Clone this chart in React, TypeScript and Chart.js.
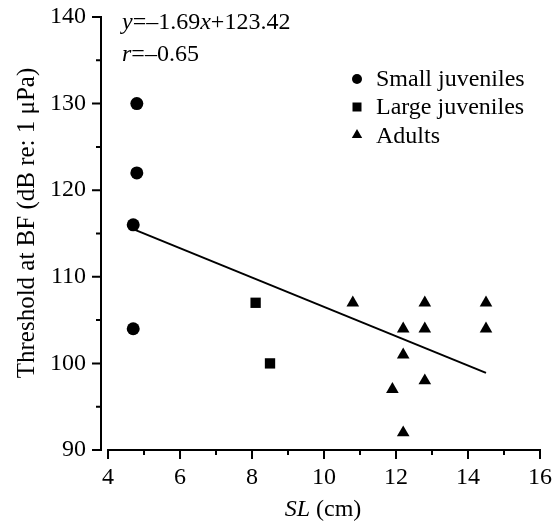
import React, { useEffect, useRef } from "react";
import { Chart, registerables } from "chart.js";

Chart.register(...registerables);

// ---- data ----
const seriesNames = ["Small juveniles", "Large juveniles", "Adults"];
const smallJuvX = [4.8, 4.8, 4.7, 4.7];
const smallJuvY = [130, 122, 116, 104];
const largeJuvX = [8.1, 8.5];
const largeJuvY = [107, 100];
const adultX = [10.8, 12.8, 14.5, 12.2, 12.8, 14.5, 12.2, 12.8, 11.9, 12.2];
const adultY = [107, 107, 107, 104, 104, 104, 101, 98, 97, 92];
const fitX = [4.7, 14.5];
const fitY = [115.5, 98.9];

const xTicks = [4, 6, 8, 10, 12, 14, 16];
const xMinorTicks = [5, 7, 9, 11, 13, 15];
const yTicks = [90, 100, 110, 120, 130, 140];
const yMinorTicks = [95, 105, 115, 125, 135];

const yTitle = "Threshold at BF (dB re: 1 \u03bcPa)";
const xTitleParts: [string, boolean][] = [["SL", true], [" (cm)", false]];
const eqParts: [string, boolean][] = [["y", true], ["=\u20131.69", false], ["x", true], ["+123.42", false]];
const rParts: [string, boolean][] = [["r", true], ["=\u20130.65", false]];

const FONT = "'Liberation Serif', 'Times New Roman', serif";

function toPoints(xs: number[], ys: number[]) {
  return xs.map((x, i) => ({ x, y: ys[i] }));
}

function drawRich(ctx: CanvasRenderingContext2D, parts: [string, boolean][], x: number, y: number, size: number, align: "left" | "center") {
  const fontFor = (it: boolean) => `${it ? "italic " : ""}${size}px ${FONT}`;
  let total = 0;
  for (const [t, it] of parts) {
    ctx.font = fontFor(it);
    total += ctx.measureText(t).width;
  }
  let cx = align === "center" ? x - total / 2 : x;
  ctx.textAlign = "left";
  ctx.textBaseline = "alphabetic";
  for (const [t, it] of parts) {
    ctx.font = fontFor(it);
    ctx.fillText(t, cx, y);
    cx += ctx.measureText(t).width;
  }
}

function drawMarker(ctx: CanvasRenderingContext2D, style: string, x: number, y: number, r: number) {
  ctx.beginPath();
  if (style === "circle") {
    ctx.arc(x, y, r, 0, Math.PI * 2);
  } else if (style === "rect") {
    ctx.rect(x - r, y - r, 2 * r, 2 * r);
  } else {
    const h = r * 1.5;
    const w = r * Math.sqrt(3);
    ctx.moveTo(x, y - r);
    ctx.lineTo(x + w / 2, y - r + h);
    ctx.lineTo(x - w / 2, y - r + h);
    ctx.closePath();
  }
  ctx.fill();
}

const decorPlugin = {
  id: "decor",
  afterDraw(chart: any) {
    const ctx: CanvasRenderingContext2D = chart.ctx;
    const xs = chart.scales.x;
    const ys = chart.scales.y;
    const left = chart.chartArea.left;
    const bottom = ys.getPixelForValue(yTicks[0]);
    ctx.save();
    ctx.strokeStyle = "#000";
    ctx.fillStyle = "#000";
    ctx.lineWidth = 2;
    // y axis
    ctx.beginPath();
    ctx.moveTo(left, ys.getPixelForValue(yTicks[yTicks.length - 1]) - 1);
    ctx.lineTo(left, bottom + 1);
    for (const v of yTicks) {
      const p = ys.getPixelForValue(v);
      ctx.moveTo(left - 9, p);
      ctx.lineTo(left, p);
    }
    for (const v of yMinorTicks) {
      const p = ys.getPixelForValue(v);
      ctx.moveTo(left - 5, p);
      ctx.lineTo(left, p);
    }
    ctx.stroke();
    // x axis
    ctx.beginPath();
    ctx.moveTo(xs.getPixelForValue(xTicks[0]) - 1, bottom);
    ctx.lineTo(xs.getPixelForValue(xTicks[xTicks.length - 1]) + 1, bottom);
    for (const v of xTicks) {
      const p = xs.getPixelForValue(v);
      ctx.moveTo(p, bottom);
      ctx.lineTo(p, bottom + 9);
    }
    for (const v of xMinorTicks) {
      const p = xs.getPixelForValue(v);
      ctx.moveTo(p, bottom);
      ctx.lineTo(p, bottom + 5);
    }
    ctx.stroke();

    // y title
    ctx.save();
    ctx.translate(27, 223);
    ctx.rotate(-Math.PI / 2);
    ctx.font = `25px ${FONT}`;
    ctx.textAlign = "center";
    ctx.textBaseline = "middle";
    ctx.fillText(yTitle, 0, 0);
    ctx.restore();

    // x title
    drawRich(ctx, xTitleParts, 323, 516, 24, "center");

    // equation
    drawRich(ctx, eqParts, 122, 29, 24, "left");
    drawRich(ctx, rParts, 122, 61, 24, "left");

    // legend
    const styles = ["circle", "rect", "triangle"];
    const radii = [5, 4.5, 6];
    const rows = [79, 107, 135];
    const textY = [86, 114, 143];
    styles.forEach((s, i) => {
      drawMarker(ctx, s, 357, rows[i], radii[i]);
      ctx.font = `24px ${FONT}`;
      ctx.textAlign = "left";
      ctx.textBaseline = "alphabetic";
      ctx.fillText(seriesNames[i], 376, textY[i]);
    });
    ctx.restore();
  },
};

export default function App() {
  const ref = useRef<HTMLCanvasElement | null>(null);
  useEffect(() => {
    if (!ref.current) return;
    const tickFont = { family: FONT, size: 24 };
    const chart = new Chart(ref.current, {
      type: "scatter",
      data: {
        datasets: [
          {
            label: seriesNames[0],
            data: toPoints(smallJuvX, smallJuvY),
            pointStyle: "circle",
            pointRadius: 6.5,
            backgroundColor: "#000",
            borderWidth: 0,
          },
          {
            label: seriesNames[1],
            data: toPoints(largeJuvX, largeJuvY),
            pointStyle: "rect",
            pointRadius: 7.3,
            backgroundColor: "#000",
            borderWidth: 0,
          },
          {
            label: seriesNames[2],
            data: toPoints(adultX, adultY),
            pointStyle: "triangle",
            pointRadius: 7.3,
            backgroundColor: "#000",
            borderWidth: 0,
          },
          {
            label: "fit",
            type: "line",
            data: toPoints(fitX, fitY),
            showLine: true,
            pointRadius: 0,
            borderColor: "#000",
            borderWidth: 2,
            fill: false,
          } as any,
        ],
      },
      options: {
        responsive: false,
        animation: false,
        devicePixelRatio: 1,
        layout: { padding: { top: 17, right: 18, left: 0, bottom: 0 } },
        plugins: { legend: { display: false }, tooltip: { enabled: false } },
        scales: {
          x: {
            type: "linear",
            min: 3.805,
            max: 16,
            grid: { display: false, drawTicks: false },
            border: { display: false },
            ticks: { font: tickFont, color: "#000", padding: 13, maxRotation: 0, autoSkip: false },
            afterBuildTicks: (s: any) => {
              s.ticks = xTicks.map((v) => ({ value: v }));
            },
            afterFit: (s: any) => {
              s.height = 71;
              s.paddingLeft = 0;
              s.paddingRight = 0;
              s.paddingTop = 0;
              s.paddingBottom = 0;
            },
          },
          y: {
            type: "linear",
            min: 90,
            max: 140,
            grid: { display: false, drawTicks: false },
            border: { display: false },
            ticks: { font: tickFont, color: "#000", padding: 15, autoSkip: false },
            afterBuildTicks: (s: any) => {
              s.ticks = yTicks.map((v) => ({ value: v }));
            },
            afterFit: (s: any) => {
              s.width = 101;
              s.paddingLeft = 0;
              s.paddingRight = 0;
              s.paddingTop = 0;
              s.paddingBottom = 0;
            },
          },
        },
      } as any,
      plugins: [decorPlugin],
    });
    return () => chart.destroy();
  }, []);
  return (
    <div style={{ position: "absolute", left: 0, top: 0, width: 558, height: 521, background: "#fff" }}>
      <canvas ref={ref} width={558} height={521} style={{ display: "block" }} />
    </div>
  );
}
